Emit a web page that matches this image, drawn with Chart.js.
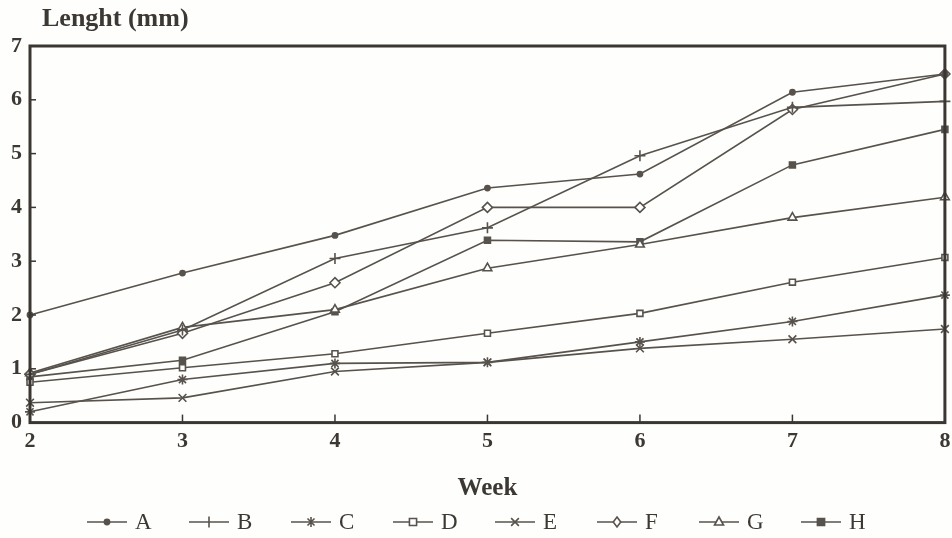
<!DOCTYPE html>
<html>
<head>
<meta charset="utf-8">
<script src="https://cdn.jsdelivr.net/npm/chart.js@4.4.0/dist/chart.umd.min.js"></script>
<style>
    html, body { margin: 0; padding: 0; background: #fefefc; overflow: hidden; }
    #wrap { position: relative; width: 952px; height: 538px; }
    #legend { position: absolute; left: 0; top: 508px; width: 952px; height: 28px; padding-left: 86px; box-sizing: border-box; display: flex; }
    .item { width: 102px; display: flex; align-items: center; font-family: "Liberation Serif", "DejaVu Serif", serif; font-size: 23px; color: #3c3834; }
    .item canvas { margin-right: 7px; }
</style>
</head>
<body>
<div id="wrap">
    <canvas id="lengthChart" width="952" height="538"></canvas>
    <div id="legend"></div>
</div>
<script>
// weekly length readings, one array per group
const weeks = ["2", "3", "4", "5", "6", "7", "8"];
const lengthA = [2.0, 2.78, 3.48, 4.36, 4.62, 6.14, 6.48];
const lengthB = [0.9, 1.72, 3.05, 3.62, 4.96, 5.86, 5.97];
const lengthC = [0.2, 0.8, 1.1, 1.12, 1.5, 1.88, 2.37];
const lengthD = [0.75, 1.02, 1.28, 1.66, 2.03, 2.61, 3.07];
const lengthE = [0.37, 0.46, 0.95, 1.12, 1.38, 1.55, 1.74];
const lengthF = [0.9, 1.66, 2.6, 4.0, 4.0, 5.82, 6.48];
const lengthG = [0.92, 1.77, 2.1, 2.87, 3.31, 3.81, 4.19];
const lengthH = [0.85, 1.16, 2.06, 3.39, 3.36, 4.79, 5.45];
const groupNames = ["A", "B", "C", "D", "E", "F", "G", "H"];
const yTicks = [0, 1, 2, 3, 4, 5, 6, 7];

const ink = "#3c3834";
const lineInk = "#57524c";
const serif = "'Liberation Serif', 'DejaVu Serif', serif";

const markers = {
    A: { style: "circle", radius: 2.6, fill: lineInk },
    B: { style: "cross", radius: 5.5, fill: lineInk },
    C: { style: "star", radius: 5, fill: lineInk },
    D: { style: "rect", radius: 4.2, fill: "#ffffff" },
    E: { style: "crossRot", radius: 5.5, fill: lineInk },
    F: { style: "rectRot", radius: 5, fill: "#ffffff" },
    G: { style: "triangle", radius: 5, fill: "#ffffff" },
    H: { style: "rect", radius: 4.2, fill: lineInk }
};

const allSeries = [lengthA, lengthB, lengthC, lengthD, lengthE, lengthF, lengthG, lengthH];

const datasets = groupNames.map((name, i) => ({
    label: name,
    data: allSeries[i],
    borderColor: lineInk,
    borderWidth: 1.6,
    pointStyle: markers[name].style,
    pointRadius: markers[name].radius,
    pointBackgroundColor: markers[name].fill,
    pointBorderColor: lineInk,
    pointBorderWidth: 1.6,
    tension: 0,
    clip: false
}));

// frame, inward ticks and the y title
const framePlugin = {
    id: "frame",
    afterDraw(chart) {
        const { ctx, chartArea: a, scales } = chart;
        ctx.save();
        ctx.strokeStyle = "#3a3632";
        ctx.lineWidth = 1.5;
        scales.y.ticks.forEach(t => {
            if (t.value === 0 || t.value === 7) return;
            const y = scales.y.getPixelForValue(t.value);
            ctx.beginPath(); ctx.moveTo(a.left, y); ctx.lineTo(a.left + 6, y); ctx.stroke();
        });
        weeks.forEach((w, i) => {
            if (i === 0 || i === weeks.length - 1) return;
            const x = scales.x.getPixelForValue(i);
            ctx.beginPath(); ctx.moveTo(x, a.bottom); ctx.lineTo(x, a.bottom - 8); ctx.stroke();
        });
        ctx.lineWidth = 3;
        ctx.strokeRect(a.left, a.top, a.right - a.left, a.bottom - a.top);
        ctx.fillStyle = ink;
        ctx.font = "bold 26px " + serif;
        ctx.textBaseline = "middle";
        ctx.fillText("Lenght (mm)", 42, 19);
        ctx.restore();
    }
};

const ctx = document.getElementById("lengthChart").getContext("2d");
new Chart(ctx, {
    type: "line",
    data: { labels: weeks, datasets: datasets },
    options: {
        responsive: false,
        animation: false,
        layout: { padding: { top: 46, right: 7, left: 0, bottom: 32 } },
        scales: {
            x: {
                offset: false,
                afterFit(scale) { scale.paddingLeft = 0; scale.paddingRight = 0; },
                grid: { display: false, drawTicks: false },
                border: { display: false },
                ticks: { color: ink, padding: 6, font: { family: serif, size: 22, weight: "bold" } },
                title: { display: true, text: "Week", color: ink, padding: { top: 13, bottom: 2 }, font: { family: serif, size: 25, weight: "bold" } }
            },
            y: {
                min: 0,
                max: 7,
                afterFit(scale) { scale.width = 30; },
                afterBuildTicks(scale) { scale.ticks = yTicks.map(v => ({ value: v })); },
                grid: { display: false, drawTicks: false },
                border: { display: false },
                ticks: { color: ink, padding: 8, font: { family: serif, size: 22, weight: "bold" } }
            }
        },
        plugins: {
            legend: { display: false },
            tooltip: { enabled: false }
        }
    },
    plugins: [framePlugin]
});

// legend with line + marker swatches
function drawMarker(g, m, x, y) {
    const r = m.radius;
    g.fillStyle = m.fill;
    g.strokeStyle = lineInk;
    g.lineWidth = 1.6;
    g.beginPath();
    if (m.style === "circle") {
        g.arc(x, y, r, 0, Math.PI * 2); g.fill(); g.stroke();
    } else if (m.style === "rect") {
        g.rect(x - r * 0.85, y - r * 0.85, r * 1.7, r * 1.7); g.fill(); g.stroke();
    } else if (m.style === "rectRot") {
        g.moveTo(x, y - r); g.lineTo(x + r * 0.75, y); g.lineTo(x, y + r); g.lineTo(x - r * 0.75, y); g.closePath(); g.fill(); g.stroke();
    } else if (m.style === "triangle") {
        g.moveTo(x, y - r); g.lineTo(x + r * 0.9, y + r * 0.6); g.lineTo(x - r * 0.9, y + r * 0.6); g.closePath(); g.fill(); g.stroke();
    } else if (m.style === "cross") {
        g.moveTo(x, y - r); g.lineTo(x, y + r); g.stroke();
    } else if (m.style === "crossRot") {
        g.moveTo(x - r * 0.7, y - r * 0.7); g.lineTo(x + r * 0.7, y + r * 0.7);
        g.moveTo(x + r * 0.7, y - r * 0.7); g.lineTo(x - r * 0.7, y + r * 0.7); g.stroke();
    } else if (m.style === "star") {
        g.moveTo(x, y - r); g.lineTo(x, y + r);
        g.moveTo(x - r * 0.7, y - r * 0.7); g.lineTo(x + r * 0.7, y + r * 0.7);
        g.moveTo(x + r * 0.7, y - r * 0.7); g.lineTo(x - r * 0.7, y + r * 0.7); g.stroke();
    }
}

const legend = document.getElementById("legend");
groupNames.forEach(name => {
    const item = document.createElement("div");
    item.className = "item";
    const sw = document.createElement("canvas");
    sw.width = 42; sw.height = 16;
    const g = sw.getContext("2d");
    g.strokeStyle = lineInk; g.lineWidth = 1.7;
    g.beginPath(); g.moveTo(1, 8); g.lineTo(41, 8); g.stroke();
    drawMarker(g, markers[name], 21, 8);
    const label = document.createElement("span");
    label.textContent = name;
    item.appendChild(sw);
    item.appendChild(label);
    legend.appendChild(item);
});
</script>
</body>
</html>
